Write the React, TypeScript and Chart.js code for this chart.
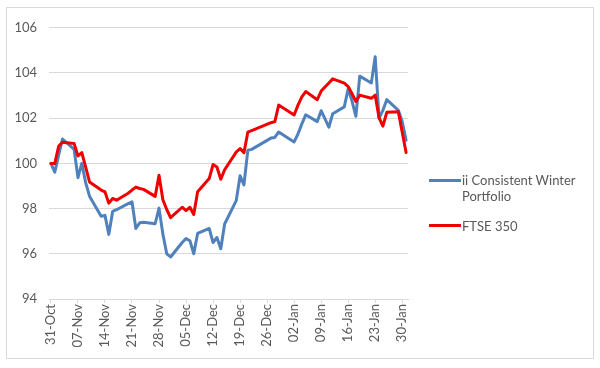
import React, { useEffect, useRef } from "react";
import { Chart, registerables } from "chart.js";

Chart.register(...registerables);

const dates = [
  "2016-10-31", "2016-11-01", "2016-11-02", "2016-11-03",
  "2016-11-06", "2016-11-07", "2016-11-08", "2016-11-09", "2016-11-10",
  "2016-11-13", "2016-11-14", "2016-11-15", "2016-11-16", "2016-11-17",
  "2016-11-20", "2016-11-21", "2016-11-22", "2016-11-23", "2016-11-24",
  "2016-11-27", "2016-11-28", "2016-11-29", "2016-11-30", "2016-12-01",
  "2016-12-04", "2016-12-05", "2016-12-06", "2016-12-07", "2016-12-08",
  "2016-12-11", "2016-12-12", "2016-12-13", "2016-12-14", "2016-12-15",
  "2016-12-18", "2016-12-19", "2016-12-20", "2016-12-21", "2016-12-22",
  "2016-12-27", "2016-12-28", "2016-12-29",
  "2017-01-02", "2017-01-03", "2017-01-04", "2017-01-05",
  "2017-01-08", "2017-01-09", "2017-01-10", "2017-01-11", "2017-01-12",
  "2017-01-15", "2017-01-16", "2017-01-17", "2017-01-18", "2017-01-19",
  "2017-01-22", "2017-01-23", "2017-01-24", "2017-01-25", "2017-01-26",
  "2017-01-29", "2017-01-30", "2017-01-31",
];

const portfolio = [
  100.0, 99.61, 100.36, 101.08,
  100.62, 99.37, 100.0, 99.15, 98.55,
  97.66, 97.7, 96.86, 97.88, 97.95,
  98.22, 98.3, 97.12, 97.37, 97.4,
  97.33, 98.02, 96.87, 96.0, 95.86,
  96.5, 96.68, 96.58, 96.0, 96.9,
  97.12, 96.5, 96.72, 96.22, 97.32,
  98.35, 99.45, 99.05, 100.58, 100.62,
  101.12, 101.15, 101.39,
  100.95, 101.3, 101.75, 102.15,
  101.85, 102.33, 101.97, 101.6, 102.2,
  102.5, 103.3, 102.76, 102.08, 103.86,
  103.56, 104.72, 102.0, 102.35, 102.82,
  102.35, 101.85, 101.02,
];

const ftse350 = [
  100.0, 100.0, 100.76, 100.94,
  100.88, 100.33, 100.48, 99.83, 99.18,
  98.82, 98.74, 98.24, 98.45, 98.37,
  98.68, 98.82, 98.95, 98.89, 98.85,
  98.54, 99.48, 98.39, 97.96, 97.6,
  98.06, 97.91, 98.06, 97.74, 98.75,
  99.33, 99.95, 99.84, 99.3, 99.72,
  100.5, 100.66, 100.47, 101.38, 101.45,
  101.8, 101.85, 102.58,
  102.14, 102.58, 102.94, 103.18,
  102.82, 103.2, 103.38, 103.56, 103.74,
  103.55, 103.4, 103.08, 102.74, 103.02,
  102.88, 103.02, 102.02, 101.65, 102.26,
  102.28, 101.38, 100.48,
];

const tickLabels = [
  "31-Oct", "07-Nov", "14-Nov", "21-Nov", "28-Nov", "05-Dec", "12-Dec",
  "19-Dec", "26-Dec", "02-Jan", "09-Jan", "16-Jan", "23-Jan", "30-Jan",
];

const seriesNames = ["ii Consistent Winter Portfolio", "FTSE 350"];
const BLUE = "#4f81bd";
const RED = "#f00000";
const FONT = "Lato";

const dayOf = (s: string) => {
  const [y, m, d] = s.split("-").map(Number);
  return Math.round((Date.UTC(y, m - 1, d) - Date.UTC(2016, 9, 31)) / 86400000);
};

export default function App() {
  const ref = useRef<HTMLCanvasElement | null>(null);

  useEffect(() => {
    if (!ref.current) return;
    const xs = dates.map(dayOf);
    const chart = new Chart(ref.current, {
      type: "line",
      data: {
        datasets: [
          {
            label: seriesNames[1],
            data: xs.map((x, i) => ({ x, y: ftse350[i] })),
            borderColor: RED,
            borderWidth: 3,
            pointRadius: 0,
            tension: 0,
            borderJoinStyle: "round",
            borderCapStyle: "round",
            order: 0,
          },
          {
            label: seriesNames[0],
            data: xs.map((x, i) => ({ x, y: portfolio[i] })),
            borderColor: BLUE,
            borderWidth: 3,
            pointRadius: 0,
            tension: 0,
            borderJoinStyle: "round",
            borderCapStyle: "round",
            order: 1,
          },
        ],
      },
      options: {
        animation: false,
        responsive: false,
        events: [],
        layout: { padding: { left: 0, top: 16, right: 185, bottom: 0 } },
        plugins: { legend: { display: false }, tooltip: { enabled: false } },
        scales: {
          x: {
            type: "linear",
            min: -0.5,
            max: 92.5,
            afterBuildTicks: (scale: any) => {
              scale.ticks = tickLabels.map((_, i) => ({ value: i * 7 }));
            },
            afterFit: (scale: any) => {
              scale.height = 59;
            },
            ticks: {
              autoSkip: false,
              minRotation: 90,
              maxRotation: 90,
              padding: 1,
              color: "#595959",
              font: { family: FONT, size: 13 },
              callback: (v: any) => tickLabels[Math.round(Number(v) / 7)] ?? "",
            },
            grid: {
              drawOnChartArea: false,
              drawTicks: true,
              tickLength: 4,
              color: "#d9d9d9",
            },
            border: { color: "#d9d9d9" },
          },
          y: {
            min: 94,
            max: 106,
            afterFit: (scale: any) => {
              scale.width = 42;
            },
            ticks: {
              stepSize: 2,
              padding: 12,
              color: "#595959",
              font: { family: FONT, size: 13 },
            },
            grid: { color: "#d9d9d9", drawTicks: false },
            border: { display: false },
          },
        },
      },
    } as any);
    return () => chart.destroy();
  }, []);

  const legendText: React.CSSProperties = {
    position: "absolute",
    fontFamily: FONT,
    fontSize: 13,
    color: "#595959",
    lineHeight: "16px",
    whiteSpace: "nowrap",
  };

  return (
    <div
      style={{
        position: "absolute",
        left: 6,
        top: 7,
        width: 586,
        height: 350,
        border: "1px solid #d9d9d9",
        background: "#fff",
      }}
    >
      <canvas ref={ref} width={586} height={350} style={{ display: "block" }} />
      <div style={{ position: "absolute", left: 422, top: 171, width: 32, height: 3, background: BLUE }} />
      <div style={{ ...legendText, left: 455, top: 164 }}>
        ii Consistent Winter
        <br />
        Portfolio
      </div>
      <div style={{ position: "absolute", left: 422, top: 216, width: 32, height: 3, background: RED }} />
      <div style={{ ...legendText, left: 455, top: 210 }}>{seriesNames[1]}</div>
    </div>
  );
}
